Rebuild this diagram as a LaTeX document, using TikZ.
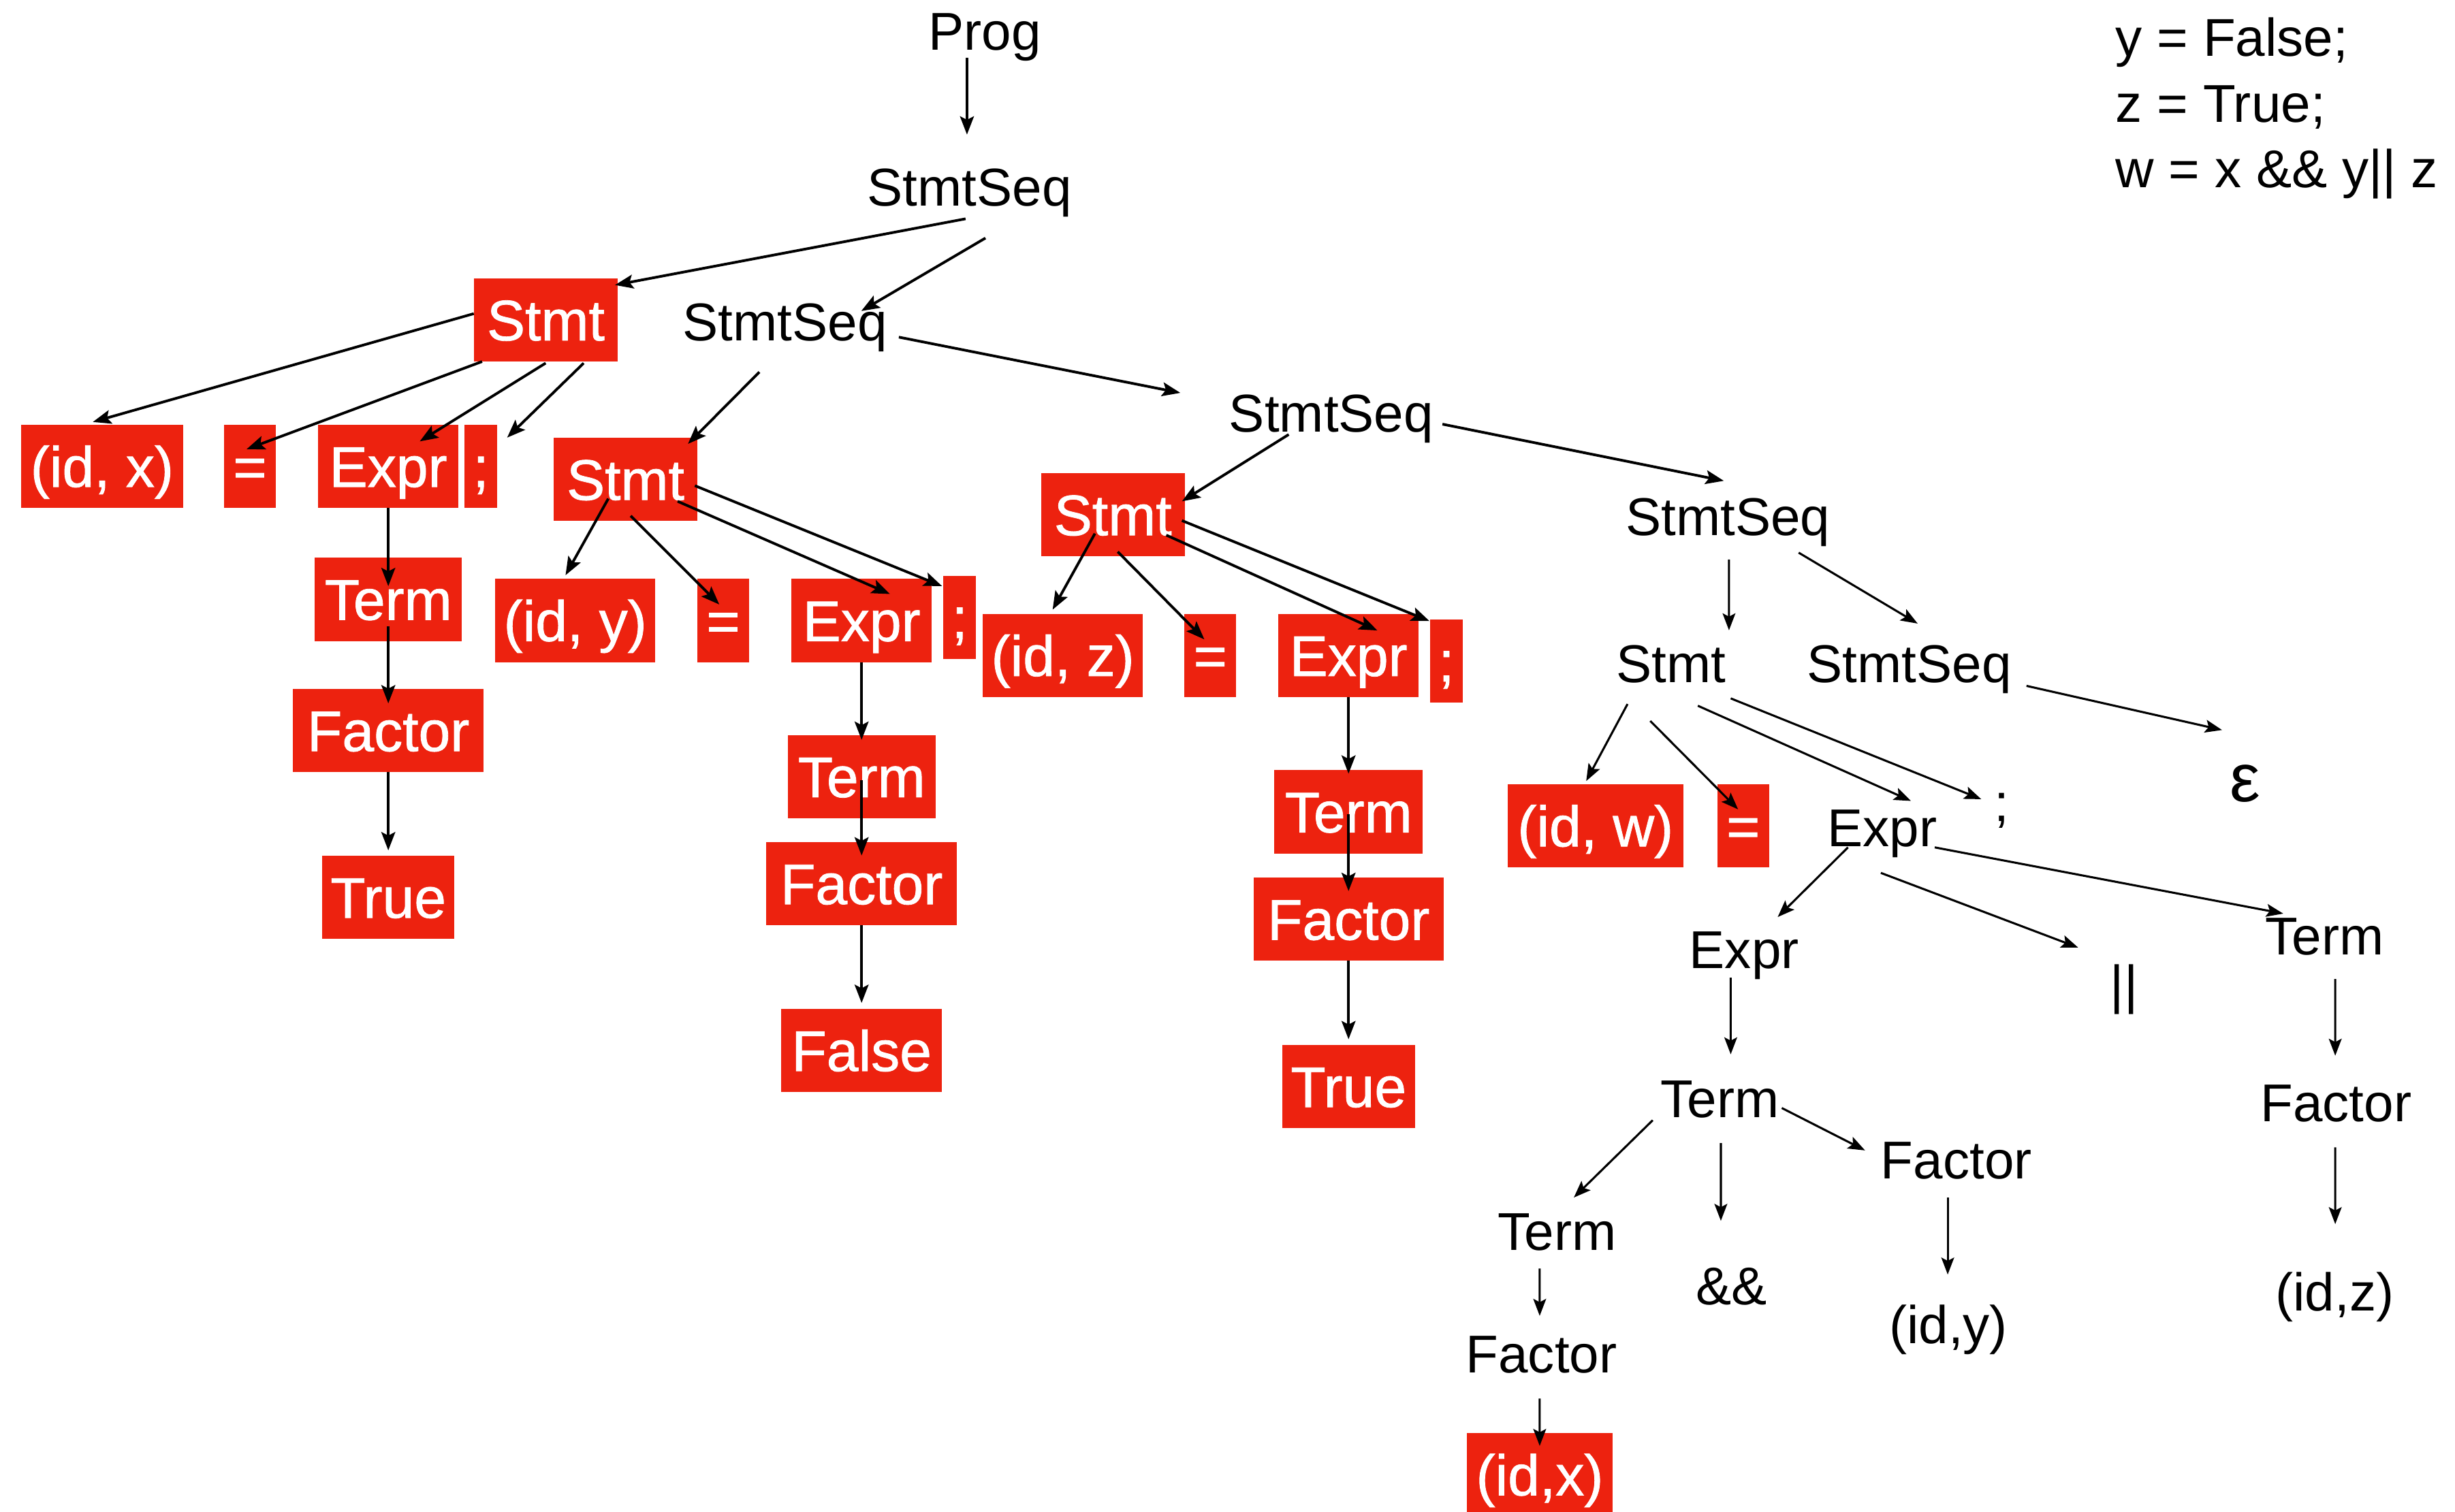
\documentclass[tikz,border=0pt]{standalone}
\usepackage{fontspec}
\setmainfont{Liberation Sans}
\newfontfamily\wfont[FakeBold=1]{Liberation Sans}
\usetikzlibrary{calc,arrows.meta}
\definecolor{hired}{RGB}{237,34,15}
\newcommand\arrw[4]{\draw[arr] ($(#1.center)+(#2)$) -- ($(#3.center)+(#4)$);}
\newcommand\arrt[4]{\draw[arrthin] ($(#1.center)+(#2)$) -- ($(#3.center)+(#4)$);}
\begin{document}
\begin{tikzpicture}[x=0.025cm,y=-0.025cm,
  lbl/.style={font=\fontsize{24.2}{29}\selectfont, inner sep=0pt, text height=17.3pt, text depth=0pt},
  rbox/.style={fill=hired, text=white, font=\wfont\fontsize{26}{31}\selectfont, inner sep=0pt, text height=18.6pt, text depth=0pt, minimum height=1.33cm},
  arr/.style={-{Stealth[length=8.3pt,width=6.3pt,inset=1.6pt]}, line width=1.2pt},
  arrthin/.style={-{Stealth[length=7.7pt,width=5.8pt,inset=1.5pt]}, line width=0.95pt},
]
\fill[white] (0,0) rectangle (1568,966);
\useasboundingbox (0,0) rectangle (1568,966);

% code text
\node[lbl,anchor=base west] (code1) at (1351,36.1) {y = False;};
\node[lbl,anchor=base west] (code2) at (1351,77.9) {z = True;};
\node[lbl,anchor=base west] (code3) at (1351,119.8) {w = x \&\& y|| z};

% black labels
\node[lbl] (prog) at (629,19.7) {Prog};
\node[lbl] (ss1) at (619.2,119.5) {StmtSeq};
\node[lbl] (ss2) at (501.4,205.4) {StmtSeq};
\node[lbl] (ss3) at (850.3,264) {StmtSeq};
\node[lbl] (ss4) at (1103.6,329.8) {StmtSeq};
\node[lbl] (stmt4) at (1067.4,423.7) {Stmt};
\node[lbl] (ss5) at (1219.4,423.7) {StmtSeq};
\node[inner sep=0pt, font=\fontsize{31}{36}\selectfont, text height=16.4pt, text depth=0pt] (eps) at (1434,500.6) {ε};
\node[lbl] (semi4) at (1278.3,512.6) {;};
\node[lbl] (expr4) at (1202.2,528.8) {Expr};
\node[lbl] (expr5) at (1114,606.6) {Expr};
\node[lbl] (oror) at (1356.6,628.8) {||};
\node[lbl] (term5) at (1484.6,597.8) {Term};
\node[lbl] (term6) at (1098.5,701.6) {Term};
\node[lbl] (term7) at (994.6,786.5) {Term};
\node[lbl] (andand) at (1106,821.3) {\&\&};
\node[lbl] (factor6) at (1249.5,740.8) {Factor};
\node[lbl] (idy2) at (1244.4,846.3) {(id,y)};
\node[lbl] (factor7) at (984.5,864.9) {Factor};
\node[lbl] (factor5) at (1492,704.6) {Factor};
\node[lbl] (idz2) at (1491.2,825.5) {(id,z)};

% red boxes
\node[rbox,minimum width=2.30cm] (stmt1) at (348.6,204.4) {Stmt};
\node[rbox,minimum width=2.58cm] (idx) at (65.2,298) {(id, x)};
\node[rbox,minimum width=0.825cm] (eqa) at (159.6,298) {=};
\node[rbox,minimum width=2.24cm] (expr1) at (248,298) {Expr};
\node[rbox,minimum width=0.525cm] (semi1) at (307.1,298) {;};
\node[rbox,minimum width=2.355cm] (term1) at (248,382.9) {Term};
\node[rbox,minimum width=3.04cm] (factor1) at (248,466.8) {Factor};
\node[rbox,minimum width=2.115cm] (true1) at (248,573.3) {True};

\node[rbox,minimum width=2.30cm] (stmt2) at (399.5,306.3) {Stmt};
\node[rbox,minimum width=2.56cm] (idy) at (367.4,396.5) {(id, y)};
\node[rbox,minimum width=0.825cm] (eqb) at (461.9,396.5) {=};
\node[rbox,minimum width=2.24cm] (expr2) at (550.3,396.5) {Expr};
\node[rbox,minimum width=0.525cm] (semi2) at (612.9,394.5) {;};
\node[rbox,minimum width=2.355cm] (term2) at (550.3,496.2) {Term};
\node[rbox,minimum width=3.04cm] (factor2) at (550.3,564.6) {Factor};
\node[rbox,minimum width=2.56cm] (false2) at (550.3,671.2) {False};

\node[rbox,minimum width=2.29cm] (stmt3) at (710.8,328.9) {Stmt};
\node[rbox,minimum width=2.555cm] (idz) at (678.8,418.8) {(id, z)};
\node[rbox,minimum width=0.825cm] (eqc) at (773,418.8) {=};
\node[rbox,minimum width=2.24cm] (expr3) at (861.3,418.8) {Expr};
\node[rbox,minimum width=0.525cm] (semi3) at (923.8,422.3) {;};
\node[rbox,minimum width=2.365cm] (term3) at (861.3,518.7) {Term};
\node[rbox,minimum width=3.03cm] (factor3) at (861.3,587.3) {Factor};
\node[rbox,minimum width=2.115cm] (true3) at (861.3,694.2) {True};

\node[rbox,minimum width=2.81cm] (idw) at (1019,527.7) {(id, w)};
\node[rbox,minimum width=0.825cm] (eqd) at (1113.4,527.7) {=};
\node[rbox,minimum width=2.33cm] (idx2) at (983.4,942.3) {(id,x)};

% connectors
\arrw{prog}{-11.4,17.2}{ss1}{-1.6,-33.5}
\arrw{ss1}{-2.5,20.3}{stmt1}{44.2,-22.3}
\arrw{ss1}{10.2,32.6}{ss2}{48.7,-6.7}
\arrw{stmt1}{-46,-4}{idx}{-5.9,-28.4}
\arrw{stmt1}{-40.7,26.6}{eqa}{-2.1,-11}
\arrw{stmt1}{-0.1,27.6}{expr1}{20.1,-16}
\arrw{stmt1}{24.2,27.6}{semi1}{16.8,-18.4}
\arrw{ss2}{-16.4,32.3}{stmt2}{39.9,-22.7}
\arrw{ss2}{72.7,10}{ss3}{-96.4,-13}
\arrw{expr1}{0,26.6}{term1}{0,-8.4}
\arrw{term1}{0,17.2}{factor1}{0,-17.4}
\arrw{factor1}{0,26.6}{true1}{0,-30}
\arrw{stmt2}{-11,12.3}{idy}{-6.2,-29}
\arrw{stmt2}{3.3,23.3}{eqb}{-2.5,-10.3}
\arrw{stmt2}{33.3,14}{expr2}{18.1,-17}
\arrw{stmt2}{44.3,4}{semi2}{-11.2,-20}
\arrw{expr2}{0,26.6}{term2}{0,-23.5}
\arrw{term2}{0,2.2}{factor2}{0,-18}
\arrw{factor2}{0,26.6}{false2}{0,-30.4}
\arrw{ss3}{-27.2,13.6}{stmt3}{44.1,-8.6}
\arrw{ss3}{71,7}{ss4}{-2.6,-22.6}
\arrw{stmt3}{-11.5,12}{idz}{-6.5,-29.3}
\arrw{stmt3}{3.1,23.6}{eqc}{-3.8,-10.3}
\arrw{stmt3}{34.1,13}{expr3}{18.4,-16}
\arrw{stmt3}{44.1,3.7}{semi3}{-10.8,-25.5}
\arrw{expr3}{0,26.6}{term3}{0,-24.4}
\arrw{term3}{0,1.3}{factor3}{0,-18}
\arrw{factor3}{0,26.6}{true3}{0,-30.2}
\arrt{ss4}{0.7,27.7}{stmt4}{36.9,-21}
\arrt{ss4}{45.2,23.3}{ss5}{5.4,-25.3}
\arrt{ss5}{74.9,14.5}{eps}{-14.8,-34.2}
\arrt{stmt4}{-27.9,26.1}{idw}{-5.9,-28.7}
\arrt{stmt4}{-13.4,36.9}{eqd}{-3.3,-10.6}
\arrt{stmt4}{17,27.2}{expr4}{18.3,-17.1}
\arrt{stmt4}{38,22.5}{semi4}{-12.9,-2}
\arrt{expr4}{-21.9,12.6}{expr5}{21.4,-20.7}
\arrt{expr4}{-0.9,28.9}{oror}{-29.3,-23.4}
\arrt{expr4}{33.5,12.6}{term5}{-26.3,-14.1}
\arrt{expr5}{-8.6,18}{term6}{6.9,-28}
\arrt{term5}{6.9,27.7}{factor5}{-0.5,-30.1}
\arrt{factor5}{-0.5,28.4}{idz2}{0.3,-43.4}
\arrt{term6}{-42.9,14.1}{term7}{10.6,-21.4}
\arrt{term6}{0.6,28.7}{andand}{-6.9,-41.3}
\arrt{term6}{39.5,6.3}{factor6}{-58.3,-5.8}
\arrt{factor6}{-5.5,24.3}{idy2}{-0.4,-32}
\arrt{term7}{-11.2,24}{factor7}{-1.1,-24.2}
\arrt{factor7}{-1.1,28.7}{idx2}{0,-18.5}
\end{tikzpicture}
\end{document}
